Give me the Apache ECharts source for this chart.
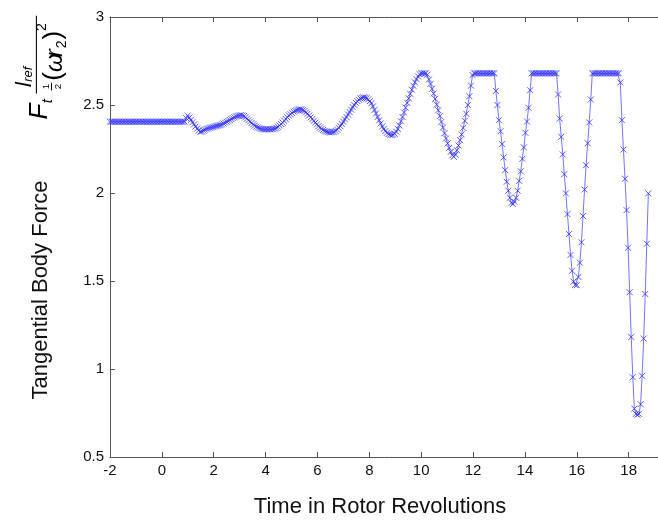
<!DOCTYPE html>
<html>
<head>
<meta charset="utf-8">
<script src="https://cdn.jsdelivr.net/npm/echarts@6/dist/echarts.min.js"></script>
<style>
html,body{margin:0;padding:0;background:#fff;}
#chart{width:658px;height:520px;}
</style>
</head>
<body>
<div id="chart"></div>
<script>
// ---- data ----
const xAxisRange = [-2, 20];
const xTickStep = 2;
const yAxisRange = [0.5, 3];
const yTickStep = 0.5;
const xTitle = 'Time in Rotor Revolutions';
const yTitle = 'Tangential Body Force';

// uniform sampling of the simulation output (rotor revolutions)
const timeStart = -2;
const timeStep = 0.06;

// tangential body force samples, one per time step
const force = [
  2.405,2.405,2.405,2.405,2.405,2.405,2.405,2.405,2.405,2.405,
  2.405,2.405,2.405,2.405,2.405,2.405,2.405,2.405,2.405,2.405,
  2.405,2.405,2.405,2.405,2.405,2.405,2.405,2.405,2.405,2.405,
  2.405,2.405,2.405,2.405,2.405,2.405,2.405,2.405,2.405,2.405,
  2.405,2.405,2.405,2.405,2.405,2.405,2.405,2.405,2.405,
  2.425,2.44,2.428,2.415,2.402,2.39,2.378,2.366,2.355,2.348,
  2.35,2.355,2.36,2.364,2.367,2.37,2.372,2.375,2.377,2.38,
  2.382,2.384,2.386,2.39,2.395,2.40,2.405,2.41,2.415,2.42,
  2.425,2.43,2.435,2.438,2.44,2.442,2.44,2.437,2.43,2.422,
  2.414,2.406,2.398,2.39,2.383,2.377,2.372,2.368,2.365,2.363,
  2.362,2.362,2.362,2.362,2.362,2.363,2.364,2.366,2.37,2.376,
  2.384,2.392,2.40,2.41,2.42,2.43,2.44,2.448,2.455,2.462,
  2.467,2.471,2.474,2.475,2.474,2.471,2.466,2.458,2.45,2.44,
  2.43,2.42,2.41,2.40,2.39,2.38,2.372,2.365,2.358,2.353,
  2.35,2.347,2.345,2.345,2.346,2.348,2.353,2.36,2.37,2.38,
  2.392,2.405,2.418,2.432,2.446,2.46,2.474,2.488,2.50,2.512,
  2.522,2.53,2.537,2.541,2.543,2.542,2.539,2.532,2.522,2.51,
  2.492,2.472,2.452,2.432,2.413,2.395,2.378,2.364,2.352,2.342,
  2.335,2.331,2.329,2.331,2.337,2.348,2.364,2.384,2.407,2.432,
  2.458,2.485,2.512,2.538,2.563,2.587,2.609,2.629,2.647,2.662,
  2.675,2.68,2.68,2.68,2.68,2.672,2.645,2.62,2.592,2.565,
  2.535,2.502,2.47,2.437,2.404,2.372,2.34,2.31,2.282,2.257,
  2.234,2.214,2.206,2.218,2.243,2.27,2.30,2.333,2.37,2.41,
  2.45,2.50,2.55,2.61,2.67,
  2.68,2.68,2.68,2.68,2.68,2.68,2.68,2.68,2.68,2.68,2.68,2.68,2.68,2.68,
  2.58,2.50,2.414,2.351,2.278,2.202,2.13,2.064,2.013,1.973,
  1.944,1.937,1.95,1.973,2.013,2.069,2.123,2.194,2.259,2.342,
  2.406,2.484,2.584,
  2.68,2.68,2.68,2.68,2.68,2.68,2.68,2.68,2.68,2.68,2.68,2.68,2.68,2.68,2.68,2.68,2.68,
  2.56,2.423,2.319,2.219,2.107,1.998,1.88,1.767,1.648,1.558,
  1.496,1.478,1.476,1.523,1.604,1.72,1.869,2.02,2.158,2.283,
  2.401,2.531,
  2.68,2.68,2.68,2.68,2.68,2.68,2.68,2.68,2.68,2.68,2.68,2.68,2.68,2.68,2.68,2.68,2.68,2.68,
  2.628,2.414,2.247,2.081,1.903,1.689,1.436,1.182,0.953,0.775,
  0.745,0.74,0.745,0.80,0.961,1.173,1.426,1.712,1.998
];

// ---- chart ----
const points = force.map((v, i) => [+(timeStart + i * timeStep).toFixed(4), v]);

const FONT = '"Liberation Sans", Arial, Helvetica, sans-serif';
const axisColor = '#555';

const chart = echarts.init(document.getElementById('chart'), null, {renderer: 'canvas'});

function t(text, lx, ly, font) {
  return {
    type: 'text', x: lx, y: ly, silent: true,
    style: {text: text, font: font, fill: '#000',
            align: 'left', verticalAlign: 'middle',
            textAlign: 'left', textVerticalAlign: 'middle'}
  };
}
function ln(x1, y1, x2, y2) {
  return {type: 'line', silent: true, shape: {x1: x1, y1: y1, x2: x2, y2: y2},
          style: {stroke: '#000', lineWidth: 1}};
}

const option = {
  animation: false,
  backgroundColor: '#fff',
  grid: {left: 110, top: 17, width: 570.5, height: 440, containLabel: false, outerBoundsMode: 'none'},
  xAxis: [{
    type: 'value', position: 'bottom',
    min: xAxisRange[0], max: xAxisRange[1], interval: xTickStep,
    axisLine: {onZero: false, lineStyle: {color: axisColor, width: 1}},
    axisTick: {inside: true, length: 5, lineStyle: {color: axisColor}},
    axisLabel: {color: '#111', fontSize: 15, fontFamily: FONT, margin: 6},
    splitLine: {show: false}
  }, {
    type: 'value', position: 'top',
    min: xAxisRange[0], max: xAxisRange[1], interval: xTickStep,
    axisLine: {onZero: false, lineStyle: {color: axisColor, width: 1}},
    axisTick: {inside: true, length: 5, lineStyle: {color: axisColor}},
    axisLabel: {show: false},
    splitLine: {show: false}
  }],
  yAxis: [{
    type: 'value',
    min: yAxisRange[0], max: yAxisRange[1], interval: yTickStep,
    axisLine: {show: true, onZero: false, lineStyle: {color: axisColor, width: 1}},
    axisTick: {show: true, inside: true, length: 5, lineStyle: {color: axisColor}},
    axisLabel: {color: '#111', fontSize: 15, fontFamily: FONT, margin: 6},
    splitLine: {show: false}
  }],
  series: [{
    type: 'line',
    xAxisIndex: 0, yAxisIndex: 0,
    data: points,
    symbol: 'path://M0,0L10,10M10,0L0,10',
    symbolSize: 6,
    showSymbol: true,
    showAllSymbol: true,
    silent: true,
    lineStyle: {color: 'rgba(70,70,255,0.75)', width: 1},
    itemStyle: {color: 'rgba(0,0,0,0)', borderColor: 'rgba(50,50,255,0.8)', borderWidth: 1},
    emphasis: {disabled: true}
  }],
  graphic: [
    {
      type: 'text', x: 380, y: 507, silent: true,
      style: {text: xTitle, font: '22px ' + FONT, fill: '#111',
              align: 'center', verticalAlign: 'middle',
              textAlign: 'center', textVerticalAlign: 'middle'}
    },
    {
      type: 'text', x: 41, y: 290, rotation: Math.PI / 2, silent: true,
      style: {text: yTitle, font: '22px ' + FONT, fill: '#111',
              align: 'center', verticalAlign: 'middle',
              textAlign: 'center', textVerticalAlign: 'middle'}
    },
    {
      type: 'group', x: 4, y: 126, rotation: Math.PI / 2, scaleX: 1.08, scaleY: 1.08, silent: true,
      children: [
        t('F', 6, 33, 'italic 24px ' + FONT),
        t('t', 21, 41, 'italic 14px ' + FONT),
        ln(30, 30, 102, 30),
        t('l', 36, 19, 'italic 20px ' + FONT),
        t('ref', 41, 23, 'italic 12px ' + FONT),
        t('1', 34, 39, '9px ' + FONT),
        ln(33, 44, 40, 44),
        t('2', 34, 50, '9px ' + FONT),
        t('(', 42, 46, '24px ' + FONT),
        t('\u03c9', 50, 48, 'italic 22px ' + FONT),
        t('r', 64, 48, 'italic 22px ' + FONT),
        t('2', 72, 54, '13px ' + FONT),
        t(')', 80, 46, '24px ' + FONT),
        t('2', 88, 35, '13px ' + FONT)
      ]
    }
  ]
};
chart.setOption(option);
</script>
</body>
</html>
